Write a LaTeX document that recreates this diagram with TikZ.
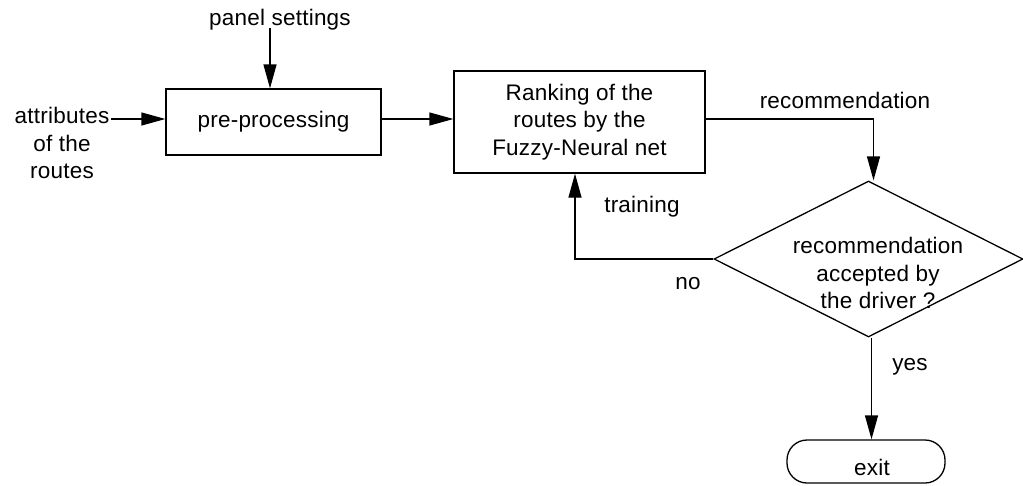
\documentclass[tikz,border=0pt]{standalone}
\usepackage{fontspec}
\setmainfont{Liberation Sans}[LetterSpace=1]
\usetikzlibrary{arrows.meta,shapes.geometric,positioning}
\begin{document}
\begin{tikzpicture}[x=1pt,y=-1pt,
  every node/.style={font=\fontsize{22.5}{27.5}\selectfont, inner sep=0pt},
  line/.style={line width=1.3pt},
  flow/.style={line, -{Triangle[length=24pt,width=13pt]}},
  box/.style={draw, line width=1.3pt, rectangle, align=center},
  label/.style={anchor=base}]
\useasboundingbox (0,0) rectangle (1023,485);

% process boxes
\node[box, minimum width=215pt, minimum height=66pt] (pre) at (273.5,122) {pre-processing};
\node[box, minimum width=251pt, minimum height=102pt] (rank) at (579.5,122)
  {Ranking of the\\routes by the\\Fuzzy-Neural net};

% decision and terminal
\node[diamond, draw, line width=1.3pt, minimum width=309pt, minimum height=156pt] (dec) at (868.5,259) {};
\node[align=center] (dectext) at (878,273) {recommendation\\accepted by\\the driver ?};
\node[draw, line width=1.3pt, rounded corners=20pt, minimum width=158pt, minimum height=43pt] (exit) at (866,461.5) {};
\node[label] (exittext) at (872,475) {exit};

% inputs
\node[align=center] (attr) at (62,143) {attributes\\of the\\routes};
\node[label] (panel) at (280,25) {panel settings};
\coordinate (attrin) at (111,119);
\coordinate (panelin) at (270,28);

% edge labels
\node[label] (rec) at (845,108) {recommendation};
\node[label] (train) at (642,212) {training};
\node[label] (no) at (688,289) {no};
\node[label] (yes) at (910,370) {yes};

% connectors
\draw[flow] (attrin) -- (attrin -| pre.west);
\draw[flow] (panelin) -- (panelin |- pre.north);
\draw[flow] ([yshift=3pt]pre.east) -- ([yshift=3pt]rank.west);
\draw[flow] ([yshift=3pt]rank.east) -| ([xshift=5pt]dec.north);
\draw[flow] (dec.west) -| ([xshift=-4.5pt]rank.south);
\draw[flow] ([xshift=3pt]dec.south) -- ([xshift=3pt]dec.south |- exit.north);
\end{tikzpicture}
\end{document}
